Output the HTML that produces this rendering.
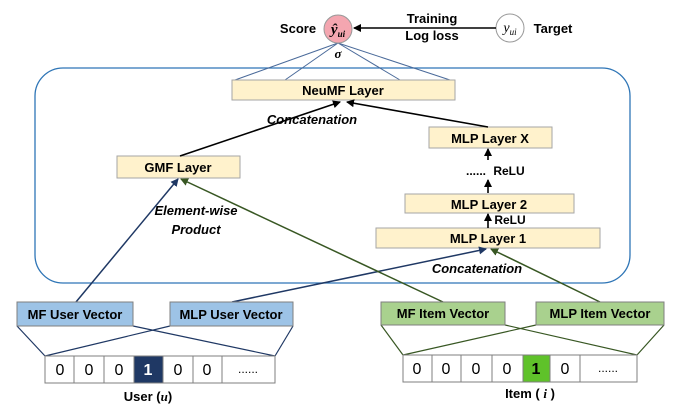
<!DOCTYPE html>
<html><head><style>
body{margin:0;background:#fff;}
svg{display:block;font-family:"Liberation Sans",sans-serif;}
</style></head><body>
<svg width="677" height="415" viewBox="0 0 677 415">
<defs>
<marker id="ak" markerWidth="8" markerHeight="8" refX="7" refY="4" orient="auto" markerUnits="userSpaceOnUse"><path d="M0,0 L8,4 L0,8 z" fill="#000"/></marker>
<marker id="ab" markerWidth="8" markerHeight="8" refX="7" refY="4" orient="auto" markerUnits="userSpaceOnUse"><path d="M0,0 L8,4 L0,8 z" fill="#1f3864"/></marker>
<marker id="ag" markerWidth="8" markerHeight="8" refX="7" refY="4" orient="auto" markerUnits="userSpaceOnUse"><path d="M0,0 L8,4 L0,8 z" fill="#385723"/></marker>
</defs>
<rect x="35" y="68" width="595" height="215" rx="28" fill="none" stroke="#2e75b6" stroke-width="1.3"/>
<!-- score -->
<g stroke="#4a6a9a" stroke-width="1">
<line x1="235" y1="80" x2="338" y2="43"/><line x1="285" y1="80" x2="338" y2="43"/>
<line x1="400" y1="80" x2="338" y2="43"/><line x1="450" y1="80" x2="338" y2="43"/>
</g>
<ellipse cx="338" cy="29" rx="14" ry="14" fill="#f4a6b0" stroke="#999"/>
<text x="338" y="34" font-family="Liberation Serif" font-style="italic" font-weight="bold" font-size="15" text-anchor="middle">ŷ<tspan font-size="9" dy="3">ui</tspan></text>
<ellipse cx="510" cy="28" rx="14" ry="14" fill="#fff" stroke="#999"/>
<text x="510" y="32" font-family="Liberation Serif" font-style="italic" font-size="14" text-anchor="middle">y<tspan font-size="9" dy="3">ui</tspan></text>
<line x1="496" y1="28" x2="354" y2="28" stroke="#000" stroke-width="1.5" marker-end="url(#ak)"/>
<g font-weight="bold" font-size="13">
<text x="298" y="33" text-anchor="middle">Score</text>
<text x="553" y="33" text-anchor="middle">Target</text>
<text x="432" y="23" text-anchor="middle">Training</text>
<text x="432" y="40" text-anchor="middle">Log loss</text>
<text x="338" y="58" text-anchor="middle" font-family="Liberation Serif" font-style="italic">σ</text>
</g>
<!-- layers -->
<g fill="#fff2cc" stroke="#a6a6a6">
<rect x="232" y="80" width="223" height="20"/>
<rect x="117" y="156" width="123" height="22"/>
<rect x="429" y="127" width="123" height="21"/>
<rect x="405" y="194" width="169" height="19"/>
<rect x="376" y="228" width="224" height="20"/>
</g>
<g font-weight="bold" font-size="13" text-anchor="middle">
<text x="343" y="95">NeuMF Layer</text>
<text x="178" y="172">GMF Layer</text>
<text x="490" y="143">MLP Layer X</text>
<text x="489" y="209">MLP Layer 2</text>
<text x="488" y="243">MLP Layer 1</text>
<text x="509" y="175" font-size="12">ReLU</text>
<text x="510" y="224" font-size="12">ReLU</text>
<text x="476" y="175" font-size="12">......</text>
<text x="312" y="124" font-style="italic">Concatenation</text>
<text x="477" y="273" font-style="italic">Concatenation</text>
<text x="196" y="215" font-style="italic">Element-wise</text>
<text x="196" y="234" font-style="italic">Product</text>
</g>
<g stroke="#000" stroke-width="1.6">
<line x1="180" y1="156" x2="340" y2="102" marker-end="url(#ak)"/>
<line x1="488" y1="127" x2="347" y2="102" marker-end="url(#ak)"/>
<line x1="488" y1="160" x2="488" y2="149" marker-end="url(#ak)"/>
<line x1="488" y1="193" x2="488" y2="180" marker-end="url(#ak)"/>
<line x1="488" y1="228" x2="488" y2="214" marker-end="url(#ak)"/>
</g>
<g stroke-width="1.5">
<line x1="76" y1="302" x2="178" y2="179" stroke="#1f3864" marker-end="url(#ab)"/>
<line x1="232" y1="302" x2="486" y2="249" stroke="#1f3864" marker-end="url(#ab)"/>
<line x1="443" y1="302" x2="181" y2="179" stroke="#385723" marker-end="url(#ag)"/>
<line x1="600" y1="302" x2="491" y2="249" stroke="#385723" marker-end="url(#ag)"/>
</g>
<!-- vectors -->
<g stroke-width="1.2">
<g stroke="#1f3864">
<line x1="17" y1="326" x2="45" y2="356"/><line x1="133" y1="326" x2="275" y2="356"/>
<line x1="170" y1="326" x2="45" y2="356"/><line x1="293" y1="326" x2="275" y2="356"/>
</g>
<g stroke="#385723">
<line x1="381" y1="325" x2="403" y2="355"/><line x1="505" y1="325" x2="637" y2="355"/>
<line x1="536" y1="325" x2="403" y2="355"/><line x1="664" y1="325" x2="637" y2="355"/>
</g>
</g>
<g stroke="#7f7f7f">
<rect x="17" y="302" width="116" height="24" fill="#9dc3e6"/>
<rect x="170" y="302" width="123" height="24" fill="#9dc3e6"/>
<rect x="381" y="302" width="124" height="23" fill="#a9d18e"/>
<rect x="536" y="302" width="128" height="23" fill="#a9d18e"/>
</g>
<g font-weight="bold" font-size="13" text-anchor="middle">
<text x="75" y="319">MF User Vector</text>
<text x="231" y="319">MLP User Vector</text>
<text x="443" y="318">MF Item Vector</text>
<text x="600" y="318">MLP Item Vector</text>
</g>
<!-- one-hot -->
<g stroke="#7f7f7f" fill="#fff">
<rect x="45" y="356" width="29" height="27"/><rect x="74" y="356" width="30" height="27"/>
<rect x="104" y="356" width="30" height="27"/><rect x="134" y="356" width="29" height="27" fill="#1f3864"/>
<rect x="163" y="356" width="30" height="27"/><rect x="193" y="356" width="29" height="27"/>
<rect x="222" y="356" width="53" height="27"/>
<rect x="403" y="355" width="29" height="27"/><rect x="432" y="355" width="29" height="27"/>
<rect x="461" y="355" width="31" height="27"/><rect x="492" y="355" width="31" height="27"/>
<rect x="523" y="355" width="27" height="27" fill="#5fc22a"/><rect x="550" y="355" width="30" height="27"/>
<rect x="580" y="355" width="57" height="27"/>
</g>
<g font-size="16" text-anchor="middle">
<text x="60" y="375">0</text><text x="89" y="375">0</text><text x="119" y="375">0</text>
<text x="148" y="375" fill="#fff" font-weight="bold">1</text><text x="178" y="375">0</text><text x="207" y="375">0</text>
<text x="248" y="373" font-size="12">......</text>
<text x="417" y="374">0</text><text x="446" y="374">0</text><text x="476" y="374">0</text><text x="507" y="374">0</text>
<text x="536" y="374" font-weight="bold">1</text><text x="565" y="374">0</text>
<text x="608" y="372" font-size="12">......</text>
</g>
<g font-weight="bold" font-size="13" text-anchor="middle">
<text x="148" y="401">User (<tspan font-family="Liberation Serif" font-style="italic">u</tspan>)</text>
<text x="530" y="398">Item ( <tspan font-family="Liberation Serif" font-style="italic">i</tspan> )</text>
</g>
</svg>
</body></html>
